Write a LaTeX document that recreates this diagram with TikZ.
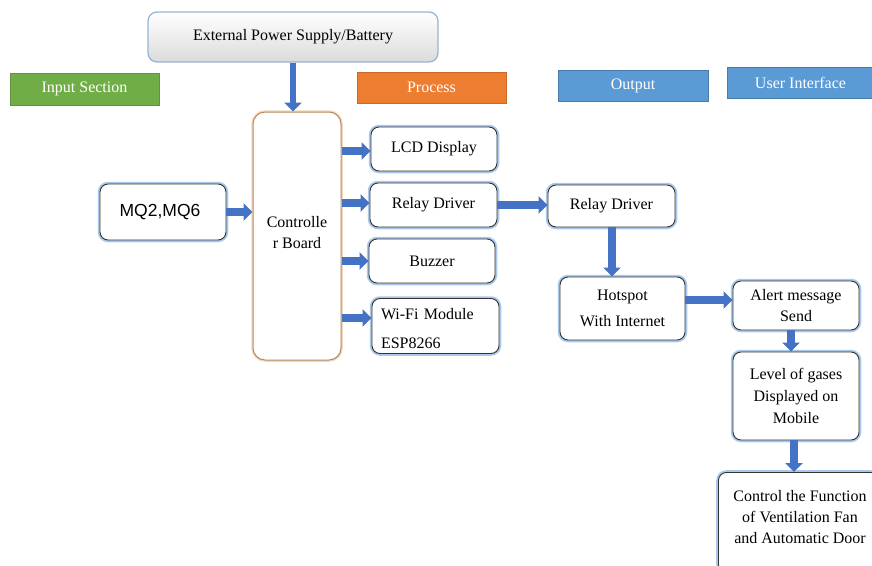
\documentclass[tikz,border=0pt]{standalone}
\usepackage{fontspec}
\setmainfont{Liberation Serif}
\newfontfamily\arialf{Liberation Sans}
\usetikzlibrary{arrows.meta,shadings}
\definecolor{arrblue}{HTML}{4472C4}
\definecolor{glowblue}{HTML}{A9C8EC}
\definecolor{hgreen}{HTML}{70AD47}
\definecolor{horange}{HTML}{ED7D31}
\definecolor{hblue}{HTML}{5B9BD5}
\definecolor{tan}{HTML}{B58A62}
\definecolor{tanglow}{HTML}{F4D9BF}
\begin{document}
\begin{tikzpicture}[x=1pt,y=-1pt,
  txt/.style={font=\fontsize{16}{21}\selectfont, text=black},
  box/.style={txt, rectangle, rounded corners=8pt, draw=black!80, line width=0.9pt, fill=white,
     preaction={draw=glowblue, line width=4.5pt}, inner sep=2pt, align=center},
  header/.style={rectangle, font=\fontsize{16}{20}\selectfont, text=white, inner sep=0pt},
  arr/.style={draw=arrblue, line width=7.5pt, -{Triangle[length=9pt,width=17pt]}},
  thinarr/.style={draw=arrblue, line width=5.5pt, -{Triangle[length=9pt,width=17pt]}}
]
\useasboundingbox (0,0) rectangle (872,565);
\clip (0,0) rectangle (872,565);

% headers
\node[header, fill=hgreen, draw=hgreen!85!black, minimum width=149pt, minimum height=32pt] (input) at (84.5,89) {Input Section};
\node[header, fill=horange, draw=horange!85!black, minimum width=149pt, minimum height=31pt] (process) at (431.5,87.5) {Process};
\node[header, fill=hblue, draw=hblue!80!black, minimum width=150pt, minimum height=31pt] (output) at (633,85.5) {Output};
\node[header, fill=hblue, draw=hblue!80!black, minimum width=147pt, minimum height=31pt] (ui) at (800.5,82.5) {User Interface};

% power supply
\node[txt, rectangle, rounded corners=9pt, draw=glowblue!90!black, line width=1.3pt,
      top color=white, bottom color=black!14, minimum width=290pt, minimum height=50pt] (power) at (293,37) {External Power Supply/Battery};

% controller
\node[txt, rectangle, rounded corners=12pt, draw=tan, line width=1pt, fill=white,
      preaction={draw=tanglow, line width=3.5pt}, minimum width=88pt, minimum height=248pt, align=center] (ctrl) at (297,236) {};
\node[txt, align=center] (ctrltxt) at (297,232.5) {Controlle\\r Board};

% input
\node[box, minimum width=126pt, minimum height=56pt, font=\arialf\fontsize{17.5}{21}\selectfont] (mq) at (163,212) {\kern-6pt MQ2,MQ6};

% process blocks
\node[box, minimum width=126pt, minimum height=44pt] (lcd) at (434,149) {LCD Display};
\node[box, minimum width=127pt, minimum height=44pt] (relay1) at (433.5,205) {Relay Driver};
\node[box, minimum width=126pt, minimum height=44pt] (buzzer) at (432,261) {Buzzer};
\node[box, minimum width=127pt, minimum height=55pt] (wifi) at (435.5,326) {};
\node[txt, text width=109pt, align=left, inner sep=2pt] (wifitxt) at (435.5,329) {Wi-Fi Module\\[8pt]ESP8266};

% output blocks
\node[box, minimum width=127pt, minimum height=42pt] (relay2) at (611.5,206) {Relay Driver};
\node[box, minimum width=125pt, minimum height=63pt] (hotspot) at (622.5,308.5) {Hotspot\\[5pt]With Internet};

% user interface blocks
\node[box, minimum width=126pt, minimum height=49pt] (alert) at (796,305.5) {Alert message\\Send};
\node[box, minimum width=126pt, minimum height=88pt, font=\fontsize{16}{22}\selectfont] (level) at (796,396) {Level of gases\\Displayed on\\Mobile};
\node[box, minimum width=160pt, minimum height=100pt, anchor=north west] (control) at (718,472) {};
\node[txt, align=center] (controltxt) at (800,517) {Control the Function\\of Ventilation Fan\\and Automatic Door};

% connectors
\draw[thinarr] (power.south -| 293,0) -- (ctrl.north -| 293,0);
\draw[arr] (mq.east) -- (ctrl.west |- mq.east);
\draw[arr] (ctrl.east |- 0,151) -- (lcd.west |- 0,151);
\draw[arr] (ctrl.east |- 0,203) -- (relay1.west |- 0,203);
\draw[arr] (ctrl.east |- 0,261) -- (buzzer.west |- 0,261);
\draw[arr] (ctrl.east |- 0,318) -- (wifi.west |- 0,318);
\draw[arr] (relay1.east |- 0,205) -- (relay2.west |- 0,205);
\draw[arr] (relay2.south -| 612,0) -- (hotspot.north -| 612,0);
\draw[arr] (hotspot.east |- 0,300) -- (alert.west |- 0,300);
\draw[arr] (alert.south -| 791,0) -- (level.north -| 791,0);
\draw[arr] (level.south -| 794,0) -- (control.north -| 794,0);
\end{tikzpicture}
\end{document}
